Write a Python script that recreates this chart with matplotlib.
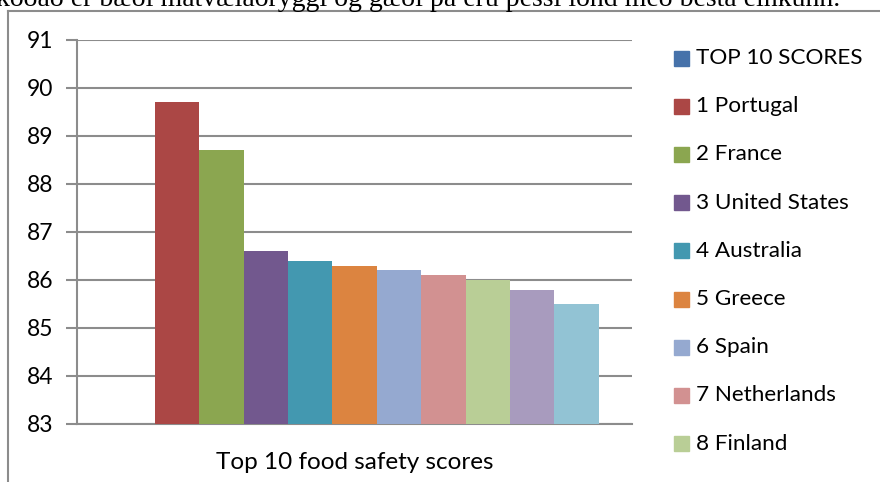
import matplotlib.pyplot as plt
from matplotlib.patches import Rectangle
from matplotlib.lines import Line2D
import numpy as np

# Data
series_names = ["TOP 10 SCORES", "1 Portugal", "2 France", "3 United States", "4 Australia",
                "5 Greece", "6 Spain", "7 Netherlands", "8 Finland", "9", "10"]
scores = [np.nan, 89.7, 88.7, 86.6, 86.4, 86.3, 86.2, 86.1, 86.0, 85.8, 85.5]
colors = ["#4672AA", "#AB4745", "#8BA650", "#72588E", "#4398B0", "#DC8440",
          "#95A9D0", "#D29191", "#B9CE96", "#A89BBE", "#92C3D4"]
legend_count = 9  # legend is cut off after "8 Finland"
category_label = "Top 10 food safety scores"
y_ticks = list(range(83, 92))
caption = "kóðað er bæði matvælaöryggi og gæði þá eru þessi lönd með besta einkunn."

W, H = 880, 482
fig = plt.figure(figsize=(W / 100, H / 100), dpi=100)
plt.rcParams['font.family'] = ['Lato', 'DejaVu Sans']

# Axes placement in pixels
left, right, top, bottom = 77, 632, 40, 424
ax = fig.add_axes([left / W, 1 - bottom / H, (right - left) / W, (bottom - top) / H])

bar_w = 0.08
n = len(scores)
for i, (val, col) in enumerate(zip(scores, colors)):
    if np.isnan(val):
        continue
    x = (i - (n - 1) / 2) * bar_w
    ax.bar(x, val - 83, bottom=83, width=bar_w, color=col, linewidth=0, zorder=3)

ax.set_xlim(-0.5, 0.5)
ax.set_ylim(83, 91)
ax.set_yticks(y_ticks)
ax.set_yticklabels([str(t) for t in y_ticks], fontsize=16.5)
ax.set_xticks([0])
ax.set_xticklabels([category_label], fontsize=17.5)
ax.tick_params(axis='x', length=0, pad=20)
ax.tick_params(axis='y', length=8, width=1.5, color='#8c8c8c', pad=9)
ax.yaxis.grid(True, color='#8c8c8c', linewidth=1.5, zorder=0)
ax.set_axisbelow(True)
for side in ['top', 'right']:
    ax.spines[side].set_visible(False)
ax.spines['left'].set_color('#8c8c8c')
ax.spines['left'].set_linewidth(1.5)
ax.spines['bottom'].set_color('#8c8c8c')
ax.spines['bottom'].set_linewidth(1.5)

# Legend drawn manually (truncated as in the reference)
for k in range(legend_count):
    yc = 58 + k * 48.2
    fig.patches.append(Rectangle((674 / W, 1 - (yc + 7.5) / H), 15 / W, 15 / H,
                                 transform=fig.transFigure, color=colors[k], figure=fig))
    fig.text(696 / W, 1 - yc / H, series_names[k], fontsize=16.2, va='center', ha='left')

# Chart area border (cut off at right and bottom)
fig.add_artist(Line2D([8 / W, 1], [1 - 11 / H, 1 - 11 / H], transform=fig.transFigure,
                      color='#8c8c8c', linewidth=1.5))
fig.add_artist(Line2D([8 / W, 8 / W], [0, 1 - 11 / H], transform=fig.transFigure,
                      color='#8c8c8c', linewidth=1.5))

# Document text above the chart, clipped at the top
fig.text(840 / W, 1 - 6 / H, caption, fontsize=20, family='Liberation Serif',
         ha='right', va='baseline')

fig.savefig("out.png", dpi=100)
